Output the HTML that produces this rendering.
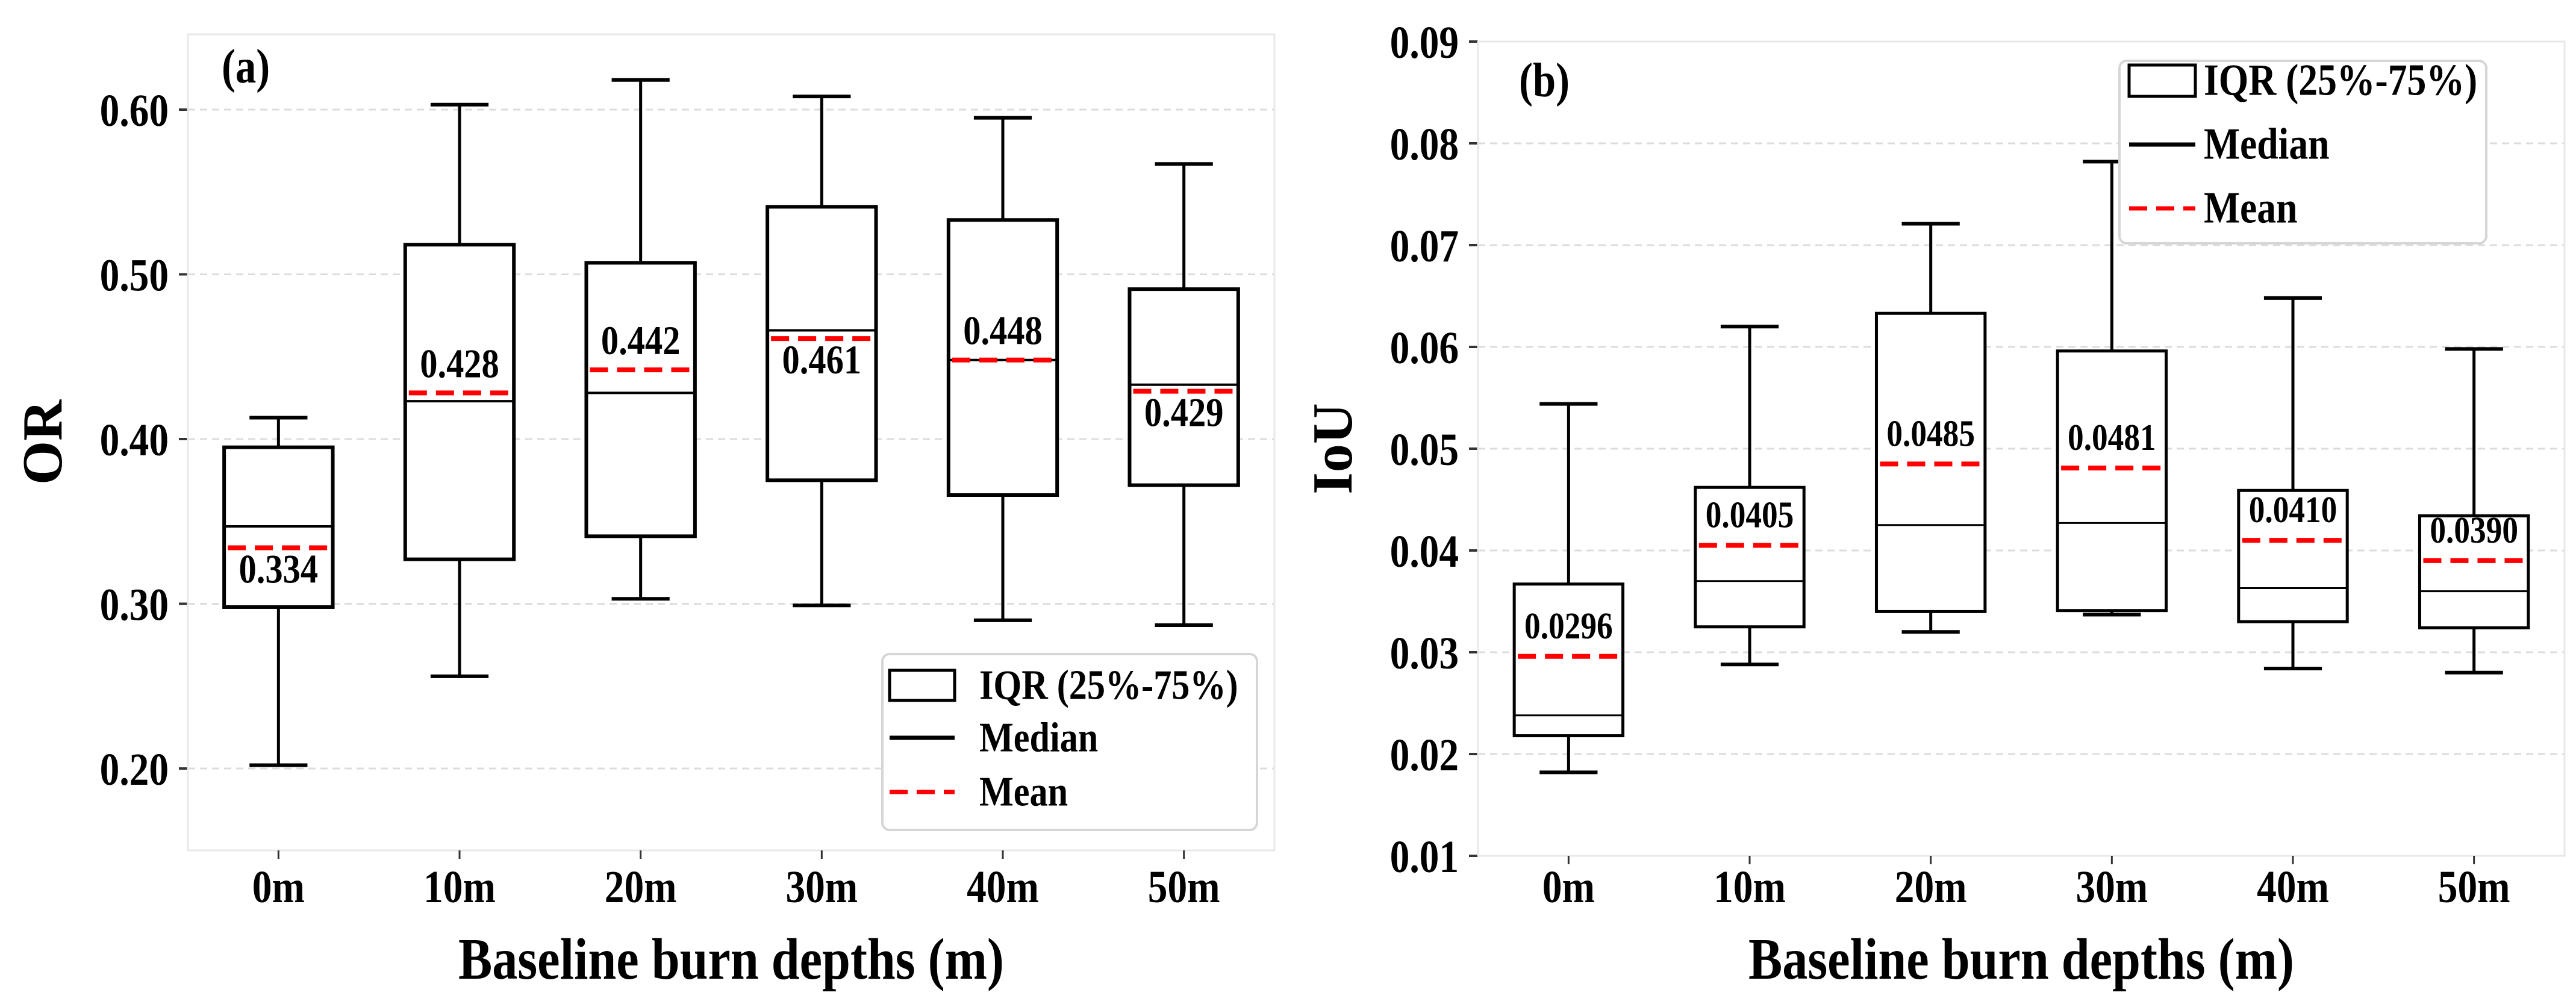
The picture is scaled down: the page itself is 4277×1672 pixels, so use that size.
<!DOCTYPE html>
<html><head><meta charset="utf-8"><style>
html,body{margin:0;padding:0;background:#fff;}
svg{display:block;}
text{font-family:"Liberation Serif",serif;font-weight:bold;fill:#000;}
</style></head><body>
<svg id="fig" width="4277" height="1672" viewBox="0 0 4277 1672" xmlns="http://www.w3.org/2000/svg"></svg>
<script>
const categories = ["0m","10m","20m","30m","40m","50m"];
// Panel (a) OR
const orWhiskLow = [0.202,0.256,0.303,0.299,0.290,0.287];
const orQ1       = [0.298,0.327,0.341,0.375,0.366,0.372];
const orMedian   = [0.347,0.423,0.428,0.466,0.448,0.433];
const orMean     = [0.334,0.428,0.442,0.461,0.448,0.429];
const orQ3       = [0.395,0.518,0.507,0.541,0.533,0.491];
const orWhiskHigh= [0.413,0.603,0.618,0.608,0.595,0.567];
const orMeanLabels = ["0.334","0.428","0.442","0.461","0.448","0.429"];
const orLabelBelow = [true,false,false,true,false,true];
const orTicks = [0.20,0.30,0.40,0.50,0.60];
const orTickLabels = ["0.20","0.30","0.40","0.50","0.60"];
// Panel (b) IoU
const iouWhiskLow = [0.0182,0.0288,0.0320,0.0337,0.0284,0.0280];
const iouQ1       = [0.0218,0.0325,0.0340,0.0341,0.0330,0.0324];
const iouMedian   = [0.0238,0.0370,0.0425,0.0427,0.0363,0.0360];
const iouMean     = [0.0296,0.0405,0.0485,0.0481,0.0410,0.0390];
const iouQ3       = [0.0367,0.0462,0.0633,0.0596,0.0459,0.0434];
const iouWhiskHigh= [0.0544,0.0620,0.0721,0.0782,0.0648,0.0598];
const iouMeanLabels = ["0.0296","0.0405","0.0485","0.0481","0.0410","0.0390"];
const iouLabelBelow = [false,false,false,false,false,false];
const iouTicks = [0.01,0.02,0.03,0.04,0.05,0.06,0.07,0.08,0.09];
const iouTickLabels = ["0.01","0.02","0.03","0.04","0.05","0.06","0.07","0.08","0.09"];

const NS="http://www.w3.org/2000/svg";
const svg=document.getElementById('fig');
function el(tag,attrs,parent){const e=document.createElementNS(NS,tag);for(const k in attrs)e.setAttribute(k,attrs[k]);(parent||svg).appendChild(e);return e;}
function txt(parent,x,y,s,size,anchor,rot){
  const t=el('text',{x:0,y:0,'font-size':size,'text-anchor':anchor||'middle',
    transform:`translate(${x},${y})`+(rot?` rotate(${rot})`:'')+' scale(0.86,1)'},parent);
  t.textContent=s;return t;
}

function drawPanel(cfg){
  const g=el('g',{});
  
  
  const spacing=(cfg.right-cfg.left)/categories.length;
  const xPos=i=>cfg.left+spacing*(i+0.5);
  const yPos=v=>cfg.bottom-(v-cfg.yMin)/(cfg.yMax-cfg.yMin)*(cfg.bottom-cfg.top);
  cfg.ticks.forEach((v,i)=>{
    const y=yPos(v);
    const gl=el('line',{x1:cfg.left,x2:cfg.right,y1:y,y2:y,stroke:'#dcdcdc','stroke-width':3,'stroke-dasharray':'12,8'},g);
    
    
    const tk=el('line',{x1:cfg.left-15,x2:cfg.left,y1:y,y2:y,stroke:'#333','stroke-width':4},g);
    
    
    const tl=txt(g,cfg.left-32,y+27,cfg.tickLabels[i],76,'end');
    
    
  });
  const fr=el('rect',{x:cfg.left,y:cfg.top,width:cfg.right-cfg.left,height:cfg.bottom-cfg.top,fill:'none',stroke:'#e8e8e8','stroke-width':3},g);
  
  
  categories.forEach((c,i)=>{
    const x=xPos(i);
    const tk=el('line',{x1:x,x2:x,y1:cfg.bottom,y2:cfg.bottom+14,stroke:'#333','stroke-width':3},g);
    
    
    const tl=txt(g,x,1498,c,76,'middle');
    
    
  });
  const bw=spacing*0.6, cw=spacing*0.32;
  categories.forEach((c,i)=>{
    const x=xPos(i);
    const bg=el('g',{},g);
    
    
    const lo=yPos(cfg.low[i]),q1=yPos(cfg.q1[i]),md=yPos(cfg.med[i]),mn=yPos(cfg.mean[i]),q3=yPos(cfg.q3[i]),hi=yPos(cfg.high[i]);
    const w1=el('line',{x1:x,x2:x,y1:q1,y2:lo,stroke:'#000','stroke-width':5},bg);
    
    
    const w2=el('line',{x1:x,x2:x,y1:q3,y2:hi,stroke:'#000','stroke-width':5},bg);
    
    
    const c1=el('line',{x1:x-cw/2,x2:x+cw/2,y1:lo,y2:lo,stroke:'#000','stroke-width':6},bg);
    
    
    const c2=el('line',{x1:x-cw/2,x2:x+cw/2,y1:hi,y2:hi,stroke:'#000','stroke-width':6},bg);
    
    
    const r=el('rect',{x:x-bw/2,y:q3,width:bw,height:q1-q3,fill:'#fff',stroke:'#000','stroke-width':cfg.boxW},bg);
    
    
    const m=el('line',{x1:x-bw/2,x2:x+bw/2,y1:md,y2:md,stroke:'#000','stroke-width':cfg.medW},bg);
    
    
    const mm=el('line',{x1:x-bw/2+6,x2:x+bw/2-6,y1:mn,y2:mn,stroke:'#ff0000','stroke-width':8,'stroke-dasharray':'30,15'},bg);
    
    
    const ly=cfg.below[i]?mn+cfg.belowOff:mn-cfg.aboveOff;
    const lt=txt(bg,x,ly,cfg.labels[i],cfg.labelSize,'middle');
    
    
  });
  const pt=txt(g,cfg.tagX,cfg.tagY,cfg.tag,80,'start');
  
  
  const xt=txt(g,(cfg.left+cfg.right)/2,1625,'Baseline burn depths (m)',98,'middle');
  
  
  const yt=el('text',{x:0,y:0,'font-size':94,'text-anchor':'middle',transform:`translate(${cfg.yTitleX},${(cfg.top+cfg.bottom)/2}) rotate(-90)`},g);
  yt.textContent=cfg.yTitle;
  
  
  // legend
  const lg=cfg.leg;
  const L=el('g',{},g);
  
  
  el('rect',{x:lg.x,y:lg.y,width:lg.w,height:lg.h,rx:12,fill:'#fff',stroke:'#d6d6d6','stroke-width':4},L);
  const hx1=lg.x+lg.hx, hx2=lg.x+lg.hx+lg.hw;
  const e1=el('rect',{x:hx1,y:lg.y+lg.rows[0]-lg.bh/2,width:lg.hw,height:lg.bh,fill:'none',stroke:'#000','stroke-width':5},L);
  
  
  const e2=el('line',{x1:hx1,x2:hx2,y1:lg.y+lg.rows[1],y2:lg.y+lg.rows[1],stroke:'#000','stroke-width':7},L);
  
  
  const e3=el('line',{x1:hx1,x2:hx2,y1:lg.y+lg.rows[2],y2:lg.y+lg.rows[2],stroke:'#ff0000','stroke-width':7,'stroke-dasharray':'30,15'},L);
  
  
  const off=lg.font*0.32;
  const t1=txt(L,lg.x+lg.tx,lg.y+lg.rows[0]+off,'IQR (25%-75%)',lg.font,'start');
  
  
  const t2=txt(L,lg.x+lg.tx,lg.y+lg.rows[1]+off,'Median',lg.font,'start');
  
  
  const t3=txt(L,lg.x+lg.tx,lg.y+lg.rows[2]+off,'Mean',lg.font,'start');
  
  
}

drawPanel({name:'panel-a-or',left:312,right:2116,top:57,bottom:1412,yMin:0.2-(1412-1276)/2735,yMax:0.2+(1276-57)/2735,
  ticks:orTicks,tickLabels:orTickLabels,low:orWhiskLow,q1:orQ1,med:orMedian,mean:orMean,q3:orQ3,high:orWhiskHigh,
  labels:orMeanLabels,below:orLabelBelow,labelSize:68,aboveOff:26,belowOff:58,boxW:6,medW:4,
  tag:'(a)',tagX:368,tagY:137,yTitle:'OR',yTitleX:102,
  leg:{x:1465,y:1086,w:622,h:292,hx:12,hw:108,bh:50,tx:161,rows:[52,139,229],font:70}});
drawPanel({name:'panel-b-iou',left:2454,right:4258,top:69,bottom:1421,yMin:0.01,yMax:0.09,
  ticks:iouTicks,tickLabels:iouTickLabels,low:iouWhiskLow,q1:iouQ1,med:iouMedian,mean:iouMean,q3:iouQ3,high:iouWhiskHigh,
  labels:iouMeanLabels,below:iouLabelBelow,labelSize:62,aboveOff:30,belowOff:58,boxW:5,medW:3,
  tag:'(b)',tagX:2522,tagY:160,yTitle:'IoU',yTitleX:2244,
  leg:{x:3519,y:101,w:609,h:303,hx:16,hw:110,bh:52,tx:140,rows:[33,139,245],font:74}});
</script>
</body></html>
